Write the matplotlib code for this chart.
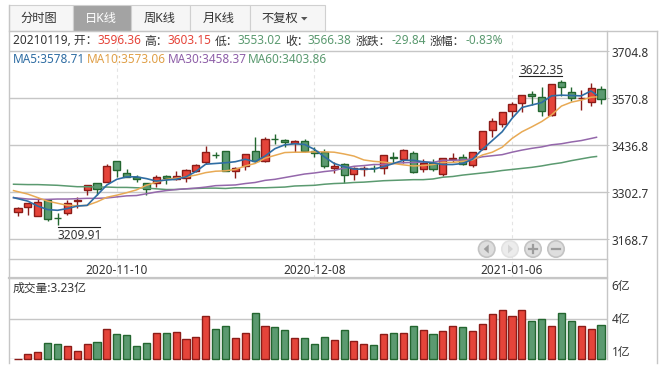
import numpy as np
import matplotlib
matplotlib.use("Agg")
import matplotlib.pyplot as plt
from matplotlib.patches import Rectangle, Circle, Polygon
from matplotlib.transforms import ScaledTranslation

plt.rcParams['font.family'] = ['Noto Sans', 'Noto Sans CJK SC', 'DejaVu Sans']

opens = [3245.2,3259.4,3235.7,3279.2,3230.0,3242.3,3276.4,3307.6,3327.5,3332.3,3390.0,3355.9,3344.6,3327.5,3327.5,3347.4,3338.9,3341.7,3361.6,3387.2,3408.9,
         3418.4,3361.6,3375.8,3418.4,3390.0,3454.4,3449.6,3441.1,3446.8,3418.4,3415.6,3370.1,3381.5,3353.1,3369.2,3372.0,3370.1,3401.4,3395.7,3412.7,3367.3,3384.3,
         3355.0,3397.6,3401.4,3378.6,3424.1,3478.0,3495.1,3532.0,3554.7,3580.3,3571.8,3520.6,3615.3,3586.0,3568.9,3557.6,3596.36]
closes = [3256.5,3270.7,3273.6,3225.3,3229.1,3270.7,3279.2,3321.8,3312.4,3375.8,3364.4,3344.6,3338.9,3310.5,3346.5,3341.7,3347.4,3364.4,3378.6,3415.6,3408.0,
          3363.5,3370.1,3409.9,3390.0,3452.5,3453.4,3444.0,3446.8,3418.4,3412.7,3375.8,3375.8,3350.2,3370.1,3370.1,3370.1,3407.0,3398.5,3421.2,3358.8,3384.3,3367.3,
          3398.5,3398.5,3381.5,3415.6,3475.2,3503.6,3529.2,3551.9,3577.5,3574.6,3532.0,3608.7,3600.2,3568.9,3569.9,3597.3,3566.38]
highs = [3259.4,3272.6,3284.9,3282.1,3242.3,3279.2,3287.8,3321.8,3327.5,3381.5,3390.0,3367.3,3350.3,3327.5,3350.3,3350.3,3361.6,3367.3,3381.5,3432.6,3415.6,
         3418.4,3374.9,3409.9,3458.2,3458.2,3467.6,3452.5,3449.6,3452.5,3429.8,3424.1,3387.2,3384.3,3373.0,3375.8,3378.6,3407.0,3415.6,3424.1,3418.4,3395.7,3395.7,
         3398.5,3412.7,3409.9,3415.6,3475.2,3512.1,3529.2,3557.6,3577.5,3588.8,3600.2,3608.7,3622.35,3600.2,3591.7,3611.5,3603.15]
lows = [3235.7,3238.5,3233.8,3219.6,3209.91,3238.5,3256.5,3293.4,3293.4,3330.4,3346.5,3344.6,3330.4,3293.4,3318.1,3324.7,3337.0,3330.4,3358.8,3381.5,3398.5,
        3361.6,3343.6,3366.3,3387.2,3387.2,3438.3,3429.8,3417.5,3415.6,3403.3,3372.0,3357.8,3328.5,3337.0,3349.3,3360.7,3355.0,3384.3,3384.3,3355.9,3360.7,3361.6,
        3349.3,3389.1,3378.6,3374.9,3422.2,3458.2,3486.6,3515.0,3529.2,3549.0,3517.8,3518.8,3574.6,3560.4,3534.9,3546.2,3553.02]

ma5 = [3287,3277,3263,3253,3251,3256,3263,3265,3294,3323,3339,3346,3346,3341,3334,3337,3339,3346,3361,3382,3384,
       3386,3389,3396,3389,3405,3426,3437,3440,3438,3424,3403,3384,3375,3368,3368,3368,3375,3384,3393,3393,3389,3386,
       3381,3381,3384,3396,3424,3449,3474,3512,3543,3550,3557,3576,3578,3577,3576,3590,3578.71]
ma10 = [3307,3297,3287,3277,3271,3265,3264,3265,3275,3288,3294,3301,3309,3322,3331,3339,3342,3346,3351,3358,3362,
        3363,3367,3377,3384,3399,3407,3415,3416,3416,3417,3417,3416,3411,3405,3394,3390,3388,3384,3380,3377,3378,3381,
        3387,3387,3390,3394,3408,3416,3430,3455,3474,3488,3503,3522,3547,3558,3564,3572,3573.06]
ma30 = [3287,3283,3282,3282,3283,3283,3284,3285,3285,3286,3289,3292,3293,3298,3303,3307,3310,3312,3314,3317,3321,
        3322,3323,3327,3330,3336,3339,3344,3349,3354,3357,3361,3364,3371,3376,3378,3381,3381,3384,3386,3387,3388,3387,
        3393,3393,3394,3397,3403,3406,3409,3416,3422,3427,3431,3437,3440,3445,3449,3455,3458.37]
ma60 = [3325,3324,3324,3323,3322,3320,3318,3318,3317,3317,3316,3316,3315,3314,3312,3310,3310,3312,3313,3314,3314,
        3313,3315,3315,3315,3315,3316,3317,3320,3321,3322,3325,3327,3328,3330,3331,3333,3335,3336,3337,3338,3338,3340,
        3345,3347,3351,3354,3357,3360,3364,3367,3370,3373,3377,3382,3386,3392,3397,3402,3403.86]

volumes = [1.42,1.67,1.78,2.26,2.21,2.10,1.83,2.21,2.31,3.06,2.74,2.69,2.10,2.26,2.80,2.80,2.85,2.47,2.58,3.76,
           3.01,3.22,2.53,2.80,3.87,3.17,3.12,2.96,2.53,2.53,2.21,2.58,2.42,2.96,2.37,2.21,2.15,2.74,2.80,2.80,
           3.22,2.96,2.74,2.90,3.17,3.12,2.90,3.33,3.82,4.08,3.71,4.08,3.44,3.60,3.22,3.87,3.49,3.22,3.01,3.23]
vol_up = [1,1,1,0,0,1,1,1,0,1,0,0,0,0,1,0,1,1,1,1,
          0,0,1,1,0,1,0,0,1,0,0,0,1,0,1,1,0,1,0,1,
          0,1,0,1,1,0,1,1,1,1,1,1,0,0,1,0,0,1,1,0]

price_ticks = [3704.8, 3570.8, 3436.8, 3302.7, 3168.7]
price_labels = ['3704.8', '3570.8', '3436.8', '3302.7', '3168.7']
date_idx = [10, 30, 50]
date_labels = ['2020-11-10', '2020-12-08', '2021-01-06']
vol_ticks = [1.4, 3.6, 5.8]
vol_labels = ['1亿', '4亿', '6亿']

W, H = 665, 373
RED, RED_E = '#e5443a', '#8c1c18'
GRN, GRN_E = '#5b9a70', '#23662f'
GRID = '#c6c6c6'
TXT = '#333333'
FS = 8.5

def px_axes(l, t, r, b, **kw):
    return fig.add_axes([l / W, 1 - b / H, (r - l) / W, (b - t) / H], **kw)

def shift_down(label, px):
    label.set_transform(label.get_transform() + ScaledTranslation(0, -px / 100, fig.dpi_scale_trans))

fig = plt.figure(figsize=(W / 100, H / 100), dpi=100, facecolor='white')
ax = px_axes(8.5, 31, 606.7, 259)
vax = px_axes(8.5, 277.7, 606.7, 359.3)
for a in (ax, vax):
    a.patch.set_visible(False)
    for s in a.spines.values():
        s.set_visible(False)
    a.set_xlim(-0.96, 59.58)

x = np.arange(len(opens))
ax.set_ylim(3112.7, 3760.2)
ax.set_yticks(price_ticks, price_labels, fontsize=FS, color=TXT)
ax.yaxis.tick_right()
ax.tick_params(axis='y', length=1.6, width=0.72, color=GRID, pad=2.2)
ax.grid(axis='y', color=GRID, lw=1.0)
ax.set_axisbelow(True)
ax.set_xticks(date_idx, date_labels, fontsize=FS, color=TXT)
ax.tick_params(axis='x', length=0, pad=3.4)
for lab in ax.get_yticklabels():
    shift_down(lab, 1)
for d in date_idx:
    ax.axvline(d, ymin=-0.085, ymax=1, clip_on=False, color='#e4e4e4', lw=0.8, ls=(0, (3, 3)), zorder=0.5)

for i in x:
    up = closes[i] >= opens[i]
    fc, ec = (RED, RED_E) if up else (GRN, GRN_E)
    ax.vlines(i, lows[i], highs[i], color=ec, lw=1.0, zorder=2)
    ax.bar(i, abs(closes[i] - opens[i]), bottom=min(opens[i], closes[i]), width=0.72,
           facecolor=fc, edgecolor=ec, lw=1.0, zorder=3)

ma_x = x.astype(float)
ma_x[0] -= 0.45
ma_x[-1] -= 0.45
for vals, col, lw in ((ma60, '#5b9a70', 1.1), (ma30, '#9467ab', 1.1), (ma10, '#e8aa55', 1.1), (ma5, '#2f6da3', 1.2)):
    ax.plot(ma_x, vals, color=col, lw=lw, zorder=4, solid_joinstyle='round')

# extreme-value notes
hi = int(np.argmax(highs))
lo = int(np.argmin(lows))
ax.plot([hi - 4.3, hi + 0.1], [highs[hi] + 10.5] * 2, color='#222222', lw=0.8, zorder=5)
ax.annotate(f'{highs[hi]:.2f}', (hi, highs[hi]), xytext=(-14.7, 6.8), textcoords='offset points',
            ha='center', va='center', fontsize=FS, color=TXT)
ax.plot([lo, lo + 4.35], [lows[lo] - 5.5] * 2, color='#222222', lw=0.8, zorder=5)
ax.annotate(f'{lows[lo]:.2f}', (lo, lows[lo]), xytext=(15.6, -7.8), textcoords='offset points',
            ha='center', va='center', fontsize=FS, color=TXT)

# volume panel
vax.set_ylim(vol_ticks[0], 5.78)
vax.set_xticks([])
vax.set_yticks(vol_ticks, vol_labels, fontsize=FS, color=TXT)
vax.yaxis.tick_right()
vax.tick_params(axis='y', length=0, pad=3.6)
vax.grid(axis='y', color=GRID, lw=1.0)
vax.set_axisbelow(True)
for lab, va, dn in zip(vax.get_yticklabels(), ('bottom', 'center', 'top'), (0, 1, 2)):
    lab.set_va(va)
    shift_down(lab, dn)
for i in x:
    fc, ec = (RED, RED_E) if vol_up[i] else (GRN, GRN_E)
    vax.bar(i, volumes[i] - vol_ticks[0], bottom=vol_ticks[0], width=0.72,
            facecolor=fc, edgecolor=ec, lw=1.0, zorder=3, clip_on=False)

# frame, tabs, header
ov = fig.add_axes([0, 0, 1, 1], zorder=10)
ov.set_xlim(0, W)
ov.set_ylim(H, 0)
ov.axis('off')
for xs, ys, lw in (([8.5, 657.3], [31, 31], 1.0), ([8.5, 8.5], [5.3, 363], 1.0),
                   ([606.7, 606.7], [31, 359.3], 1.0), ([657.3, 657.3], [31, 363], 1.0),
                   ([8.5, 606.7], [259.3, 259.3], 1.0), ([8.5, 606.7], [277.7, 277.7], 1.6)):
    ov.plot(xs, ys, color=GRID, lw=lw)

tabs = [(8.5, 72.7, '分时图', 39), (72.7, 131.3, '日K线', 100.7), (131.3, 190.3, '周K线', 159.7),
        (190.3, 249.7, '月K线', 219), (249.7, 325.3, '不复权', 280)]
for i, (l, r, s, c) in enumerate(tabs):
    active = i == 1
    ov.add_patch(Rectangle((l, 5.3), r - l, 25.7, facecolor='#a3a3a3' if active else '#f6f6f6',
                           edgecolor='#d0d0d0', lw=0.8))
    ov.text(c, 18.4, s, ha='center', va='center', fontsize=FS + 0.3, color='white' if active else TXT)
ov.add_patch(Polygon([[301, 17], [307.5, 17], [304.2, 20.5]], facecolor='#555555', edgecolor='none'))

head = [(13, '20210119, 开：', TXT), (97, '3596.36', RED), (144, '高：', TXT), (168, '3603.15', RED),
        (215, '低：', TXT), (238, '3553.02', GRN), (285, '收：', TXT), (308, '3566.38', GRN),
        (355.7, '涨跌：', TXT), (392, '-29.84', GRN), (430, '涨幅：', TXT), (466, '-0.83%', GRN)]
for px, s, c in head:
    ov.text(px, 41, s, ha='left', va='center', fontsize=FS, color=c)
mas = [(13, 'MA5:3578.71', '#2f6da3'), (87, 'MA10:3573.06', '#e0a048'),
       (167.5, 'MA30:3458.37', '#8e5fa8'), (247.5, 'MA60:3403.86', GRN)]
for px, s, c in mas:
    ov.text(px, 59.5, s, ha='left', va='center', fontsize=FS, color=c)
ov.text(13, 288.3, '成交量:3.23亿', ha='left', va='center', fontsize=FS, color=TXT)

# navigation buttons
btn_y = 249
for cx, light in ((486.7, False), (510, True), (533, False), (556, False)):
    ov.add_patch(Circle((cx, btn_y), 8.2, facecolor='#ececec' if light else '#dedede',
                        edgecolor='#e2e2e2' if light else '#c4c4c4', lw=1.2))
gl = '#9c9c9c'
ov.add_patch(Polygon([[483.7, btn_y], [488.7, btn_y - 4.5], [488.7, btn_y + 4.5]], facecolor=gl, edgecolor='none'))
ov.add_patch(Polygon([[513, btn_y], [508, btn_y - 4.5], [508, btn_y + 4.5]], facecolor='#d4d4d4', edgecolor='none'))
ov.plot([529, 537], [btn_y, btn_y], color=gl, lw=1.6)
ov.plot([533, 533], [btn_y - 4, btn_y + 4], color=gl, lw=1.6)
ov.plot([552, 560], [btn_y, btn_y], color=gl, lw=1.6)

fig.savefig('out.png', dpi=100, facecolor='white')
